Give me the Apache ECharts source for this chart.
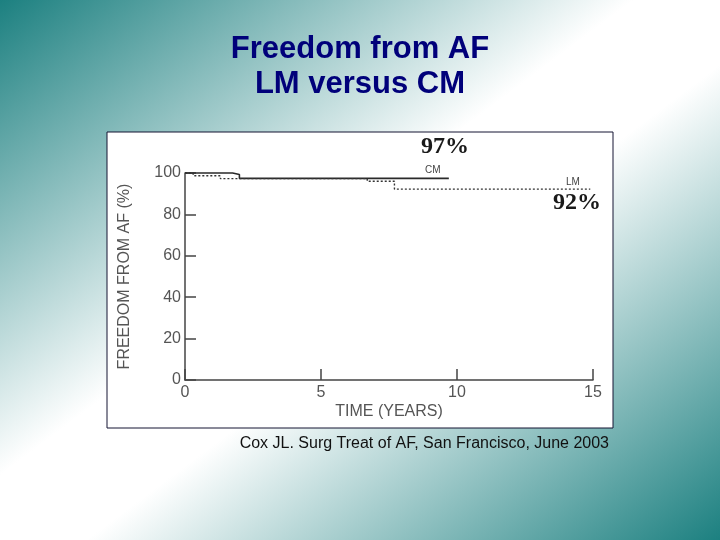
<!DOCTYPE html>
<html>
<head>
<meta charset="utf-8">
<script src="https://cdn.jsdelivr.net/npm/echarts@6/dist/echarts.min.js"></script>
<style>
  html, body { margin: 0; padding: 0; }
  #chart {
    width: 720px; height: 540px;
    background: linear-gradient(to bottom right, #1c8080 0%, #ffffff 44%, #ffffff 56%, #1c8080 100%);
  }
</style>
</head>
<body>
<div id="chart"></div>
<script>
// 数据：Kaplan-Meier 阶梯曲线 [年, 百分比]
var cmTimes  = [0, 1.75, 2.0, 9.7];
var cmValues = [100, 99.3, 97.4, 97.4];
var lmTimes  = [0, 0.3, 1.3, 6.7, 7.7, 14.9];
var lmValues = [100, 98.7, 97.3, 96.0, 92.2, 92.2];
var xTicks = [0, 5, 10, 15];
var yTicks = [0, 20, 40, 60, 80, 100];

function pairs(xs, ys) {
  var out = [];
  for (var i = 0; i < xs.length; i++) out.push([xs[i], ys[i]]);
  return out;
}

var chart = echarts.init(document.getElementById('chart'), null, { renderer: 'canvas' });

var axisText = { color: '#555', fontFamily: 'Liberation Sans', fontSize: 16 };

var option = {
  backgroundColor: 'transparent',
  animation: false,
  title: {
    text: 'Freedom from AF\nLM versus CM',
    left: 'center',
    top: 27,
    textStyle: {
      color: '#00007a',
      fontFamily: 'Liberation Sans',
      fontWeight: 'bold',
      fontSize: 31,
      lineHeight: 35,
      textShadowColor: '#8c9ca2',
      textShadowOffsetX: 2,
      textShadowOffsetY: 2,
      textShadowBlur: 0
    }
  },
  graphic: [
    {
      type: 'rect', z: -10,
      shape: { x: 107, y: 132, width: 506, height: 296 },
      style: { fill: '#ffffff', stroke: '#141432', lineWidth: 1 }
    },
    {
      type: 'text', left: 421, top: 135,
      style: { text: '97%', font: 'bold 24px "Liberation Serif"', fill: '#1a1a1a' }
    },
    {
      type: 'text', left: 553, top: 191,
      style: { text: '92%', font: 'bold 24px "Liberation Serif"', fill: '#1a1a1a' }
    },
    {
      type: 'text', left: 425, top: 165,
      style: { text: 'CM', font: '10px "Liberation Sans"', fill: '#444' }
    },
    {
      type: 'text', left: 566, top: 177,
      style: { text: 'LM', font: '10px "Liberation Sans"', fill: '#444' }
    },
    {
      type: 'text', right: 111, top: 436,
      style: { text: 'Cox JL. Surg Treat of AF, San Francisco, June 2003', font: '16px "Liberation Sans"', fill: '#111' }
    }
  ],
  grid: { left: 185, right: 127, top: 173, bottom: 160 },
  xAxis: {
    type: 'value', min: 0, max: 15, interval: 5,
    name: 'TIME (YEARS)', nameLocation: 'middle', nameGap: 24,
    nameTextStyle: axisText,
    axisLine: { show: true, lineStyle: { color: '#444', width: 1.5 } },
    axisTick: { show: true, inside: true, length: 11, lineStyle: { color: '#444', width: 1.5 } },
    axisLabel: Object.assign({ margin: 5, customValues: xTicks }, axisText),
    splitLine: { show: false }
  },
  yAxis: {
    type: 'value', min: 0, max: 100, interval: 20,
    name: 'FREEDOM FROM AF (%)', nameLocation: 'middle', nameGap: 52,
    nameTextStyle: axisText,
    axisLine: { show: true, lineStyle: { color: '#444', width: 1.5 } },
    axisTick: { show: true, inside: true, length: 11, lineStyle: { color: '#444', width: 1.5 } },
    axisLabel: Object.assign({ margin: 4, customValues: yTicks }, axisText),
    splitLine: { show: false }
  },
  series: [
    {
      name: 'CM', type: 'line', step: 'end', clip: false, symbol: 'none',
      data: pairs(cmTimes, cmValues),
      lineStyle: { color: '#2a2a2a', width: 1.6, type: 'solid' }
    },
    {
      name: 'LM', type: 'line', step: 'end', clip: false, symbol: 'none',
      data: pairs(lmTimes, lmValues),
      lineStyle: { color: '#333', width: 1.4, type: [2, 2] }
    }
  ]
};
chart.setOption(option);
</script>
</body>
</html>
